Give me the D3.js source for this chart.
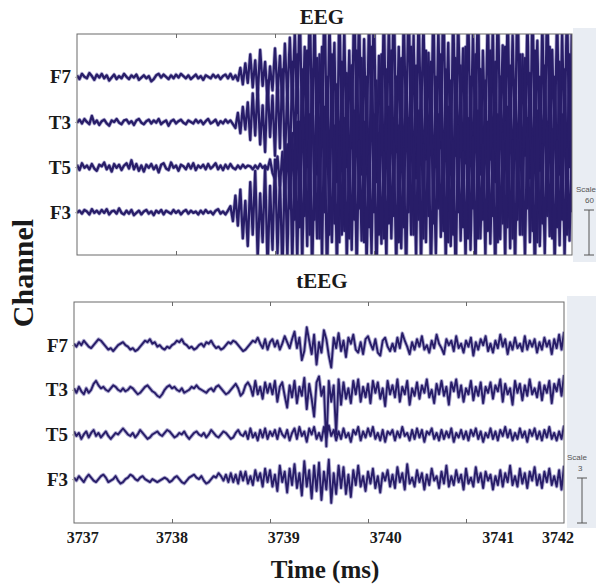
<!DOCTYPE html>
<html>
<head>
<meta charset="utf-8">
<script src="https://cdn.jsdelivr.net/npm/d3@7"></script>
<style>
  body { margin: 0; background: #fff; }
  svg { display: block; }
</style>
</head>
<body>
<svg id="chart" width="596" height="585"></svg>
<script>
var channels = ["F7", "T3", "T5", "F3"];
var t0 = 3737, dt = 0.025;   // sample spacing (ms), 201 samples per trace
var tickLabels = ["3737", "3738", "3739", "3740", "3741", "3742"];
var tickLabelAt = [3737.09, 3738.0, 3739.14, 3740.18, 3741.33, 3741.94];
var eegScale = 60, teegScale = 3;

// EEG, microvolts
var eegF7 = [2,-3,4,0,-2,5,1,-4,3,-1, 4,-2,2,-5,-1,3,-3,1,-2,4, 0,-3,2,-1,3,-4,-1,2,-2,1, -6,-3,2,4,-1,3,0,-3,2,-2,
  3,-1,4,1,-2,2,-3,0,3,-2, 1,-4,2,0,-2,3,-1,2,-3,1, 3,-2,4,-3,2,-5,12,-10,18,-8,
  30,-14,22,-25,36,-12,20,-30,14,-18, 38,-22,28,-40,44,-30,52,-35,60,-48,
  95,-80,40,-120,110,-70,85,-130,30,-90, 120,-110,75,-60,45,-140,100,-85,65,-120,
  35,-95,115,-75,90,-130,50,-100,80,-65, 105,-140,28,-90,95,-115,70,-80,120,-100,
  40,-125,85,-70,110,-95,55,-135,90,-60, 75,-110,32,-85,100,-120,65,-95,115,-75,
  45,-130,95,-105,80,-65,38,-115,105,-90, 60,-100,120,-130,35,-85,90,-110,70,-140,
  110,-75,42,-120,95,-95,55,-80,125,-115, 30,-105,85,-135,100,-70,48,-125,75,-90,
  115,-110,36,-95,90,-130,60,-85,105,-120,80];
var eegT3 = [-1,3,-2,4,0,-3,8,-2,2,-4, 1,3,-2,-5,2,0,4,-1,-3,2, 3,-2,1,-4,2,4,-1,-3,1,3, -2,2,-1,4,-3,0,2,-5,1,3,
  -2,1,3,-1,-3,2,0,-2,3,-1, 2,-3,1,4,-2,0,3,-4,1,-2, 3,-1,2,-3,-8,12,-15,20,-10,26,
  -24,38,-18,45,-30,22,-40,55,-20,35, -45,60,-35,70,-55,48,-65,80,-50,90,
  -90,70,-60,95,-75,55,-95,85,-70,100, -65,60,-85,90,-100,50,-55,80,-80,65,
  -95,75,-70,95,-60,85,-90,60,-85,100, -65,55,-100,90,-75,70,-85,95,-55,60,
  -90,85,-75,65,-65,100,-100,75,-70,55, -85,95,-60,80,-95,60,-65,90,-90,70,
  -75,55,-100,85,-55,75,-80,100,-95,60, -65,90,-85,70,-70,55,-95,95,-65,80,
  -85,60,-60,100,-100,75,-75,55,-65,90, -90,85,-70,65,-85,95,-100,60,-55,75,
  -80,100,-90,55,-65,80,-95,70,-70,90,-65];
var eegT5 = [3,-4,5,-1,2,-3,4,-2,-5,3, 1,6,-3,2,-6,4,-1,3,-4,2, 5,-2,9,-3,4,-5,2,-6,3,-1, 4,-3,2,-7,3,5,-2,-4,6,-1,
  2,-5,3,1,-3,4,-2,5,-4,2, -1,3,-3,4,-2,1,5,-3,2,-4, 3,-2,4,-1,-3,2,-2,3,-1,2,
  1,-3,2,-2,4,-1,2,-3,10,-8, -16,14,-25,20,-40,30,-55,45,-70,60,
  -80,100,-65,75,-90,130,-70,85,-95,115, -60,65,-90,120,-75,90,-100,70,-85,110,
  -95,135,-70,80,-55,100,-100,60,-80,125, -60,85,-90,110,-95,70,-75,95,-65,120,
  -100,65,-80,100,-60,80,-90,130,-70,75, -95,115,-65,90,-75,60,-55,125,-85,95,
  -100,70,-90,110,-60,85,-80,120,-95,65, -55,100,-95,130,-70,75,-85,105,-65,85,
  -100,120,-75,60,-80,110,-95,90,-70,70, -90,125,-55,95,-85,65,-100,100,-75,115,
  -65,80,-95,120,-80,70,-70,95,-90,130,-60];
var eegF3 = [-1,2,-2,3,1,-3,4,-1,2,-2, 3,-1,4,-3,1,2,-2,5,-1,-3, 2,-2,3,-4,-1,2,-3,1,3,-2, 1,-4,2,-1,3,-3,2,0,-2,3,
  -1,2,-3,1,3,-2,2,-1,1,-3, 2,-2,3,-1,1,-3,2,4,-2,1, -3,2,8,-12,22,-18,30,-35,15,-45,
  40,-30,55,-60,25,-40,60,-75,35,-50, 70,-55,45,-80,65,-60,85,-70,90,-65,
  120,-70,95,-45,130,-85,80,-35,110,-60, 140,-90,70,-40,115,-75,100,-30,125,-65,
  85,-50,135,-80,95,-38,120,-70,75,-55, 130,-90,105,-42,80,-65,140,-35,95,-75,
  115,-48,85,-85,125,-30,100,-60,135,-70, 90,-40,120,-80,75,-55,130,-33,105,-68,
  140,-45,95,-90,115,-38,80,-62,125,-50, 100,-75,135,-35,90,-58,120,-42,85,-80,
  130,-36,105,-65,140,-48,95,-72,115,-30, 80,-60,125,-40,100,-85,135,-45,90,-55,
  120,-32,110,-70,95,-44,130,-60,85,-38,105];

// tEEG, in tenths of a scale unit
var teegF7 = [1,-1,2,0,3,1,-1,-2,0,2, 4,3,1,-1,-3,-2,-4,-2,0,1, 2,0,-1,-3,-2,-4,-3,-1,1,3, 2,4,1,2,-1,0,-2,-3,-1,-2,
  0,1,3,2,4,1,0,-2,-1,-3, -2,0,1,-1,2,1,3,0,-2,-1, -3,-2,0,2,1,3,2,0,-2,-4,
  -3,-1,1,3,2,5,1,-2,4,-3, 2,4,-1,3,-3,1,6,2,-2,4,
  9,-2,5,-10,-4,12,3,-6,7,-13, 2,-5,10,4,-7,-15,5,-2,8,-4,
  3,-8,5,1,7,-3,-5,2,-6,4, 6,1,-3,4,-5,-7,3,5,-1,-4,
  1,-4,5,-2,8,3,-1,-6,2,-3, 4,-1,6,-3,0,-5,3,-2,7,1,
  -2,-6,4,0,3,-4,6,-2,1,-5, 3,-1,5,-7,2,-3,4,0,6,-4,
  1,-5,3,-2,7,-1,4,-6,2,-3, 5,-2,1,-4,6,-3,3,-1,4,-5,
  2,-3,5,-1,3,-6,4,-2,7,-3,9];
var teegT3 = [1,-2,2,-1,-3,1,-2,0,4,6, 3,1,2,0,-1,1,3,2,0,-1, 1,-1,0,2,1,-1,-3,-2,0,2, 3,1,-1,-2,-4,-5,-3,0,2,3,
  1,2,0,-1,1,-2,-1,0,2,1, 3,1,0,-1,-2,0,1,-1,2,3, 1,-1,-3,-2,0,2,4,1,-4,-2,
  3,5,2,-4,6,-3,2,-6,5,-2, 4,-3,6,-8,2,5,-4,-12,3,-5,
  6,-9,2,-4,8,-13,4,-6,-18,5, 9,-4,2,-38,6,-8,3,-30,7,-10,
  5,-6,1,-9,6,-3,7,-8,2,-5, 4,-9,6,-2,5,-6,1,-11,6,-3,
  3,-5,7,-8,2,-3,6,-10,1,-4, 5,-6,3,-2,7,-5,0,-9,4,-3,
  6,-4,2,-10,5,-1,7,-5,3,-8, 1,-3,6,-7,2,-4,5,-9,2,-2,
  5,-6,3,-1,7,-8,4,-3,1,-10, 6,-2,4,-7,3,-4,7,-3,1,-5,
  5,-7,3,-2,6,-9,4,-1,7,-4,10];
var teegT5 = [2,-1,1,-3,0,2,-2,1,3,-1, 1,-2,0,2,-1,-3,-1,1,0,2, 4,2,0,-1,1,-2,0,3,1,-1, -3,-2,0,1,2,0,-1,1,3,2,
  0,-2,-1,1,0,2,-1,-3,-1,1, 2,0,-1,1,-2,0,3,1,-1,-2, 0,2,1,-1,-3,-2,1,3,0,-1,
  2,-3,4,-2,1,-4,3,-2,4,-3, 2,-1,3,-3,4,0,-2,3,-4,1,
  4,-3,5,-1,2,-5,4,0,5,-3, 1,-4,5,-2,6,-1,3,-4,2,-3,
  4,-2,1,-5,3,0,5,-4,2,-2, 4,-1,5,-3,1,-4,3,-5,2,0,
  3,-4,2,-2,5,-1,1,-4,3,-3, 4,-2,3,-5,2,0,4,-3,1,-4,
  3,-3,2,-2,4,-5,1,-2,3,-3, 2,-4,3,-1,4,-3,2,-5,1,-2,
  4,-3,2,-4,3,-1,5,-2,3,-4, 1,-3,4,-2,2,-5,3,-1,4,-3,
  2,-4,3,-2,5,-3,1,-4,2,-3,6];
var teegF3 = [1,-1,2,0,-2,1,3,1,-1,-2, 0,2,3,1,-2,-1,0,2,-1,-3, -2,0,1,3,2,0,-1,1,2,0, -1,-2,0,-1,-2,-1,0,1,0,-2,
  -1,1,2,0,-2,-3,-1,1,2,3, 1,0,2,-1,-3,-2,0,2,1,4, 2,-1,3,-2,4,-2,3,-3,5,-1,
  5,-3,2,-4,6,-1,4,-5,7,-2, 6,-5,3,-8,9,-2,5,-9,7,-4,
  10,-6,4,-11,12,-5,6,-13,9,-8, 11,-14,5,-7,13,-16,4,-10,9,-6,
  8,-10,3,-12,6,-4,9,-5,2,-8, 5,-3,7,-6,2,-9,4,-1,6,-5,
  3,-6,8,-2,4,-7,10,-3,1,-5, 6,-2,4,-7,3,-4,7,-1,2,-6,
  5,-3,9,-5,2,-4,6,-2,3,-7, 7,-3,1,-5,8,-2,4,-6,5,-1,
  3,-7,2,-4,6,-5,4,-2,9,-4, 2,-5,7,-3,4,-6,5,-1,8,-4,
  3,-6,5,-2,7,-4,2,-5,6,-7,9];

var eegData = [eegF7, eegT3, eegT5, eegF3];
var teegData = [teegF7, teegT3, teegT5, teegF3].map(function(s) { return s.map(function(v) { return v / 10; }); });

///////////// DRAW /////////////
var svg = d3.select('#chart');
var serif = '"Liberation Serif", "Times New Roman", serif';
var sans = 'Arial, "Liberation Sans", sans-serif';

function lab(sel, size) {
  return sel.style('font-family', serif).style('font-weight', 'bold').style('font-size', size + 'px').attr('fill', '#1a1a1a');
}

var panels = [
  {title: 'EEG', titleY: 24, data: eegData, step: eegScale, left: 77, right: 572, top: 34, bottom: 255,
   dom: [57, -237], grey: [573, 28, 23, 234], scaleText: '60', scaleX: 589, sx: 576, under: 3.8, core: 2.3},
  {title: 'tEEG', titleY: 288, data: teegData, step: teegScale, left: 74, right: 564, top: 302, bottom: 523,
   dom: [2.9, -11.95], grey: [567, 296, 29, 232], scaleText: '3', scaleX: 582, sx: 567, under: 3.8, core: 1.9}
];

panels.forEach(function(p, pi) {
  var x = d3.scaleLinear().domain([3737, 3742]).range([p.left, p.right]);
  var y = d3.scaleLinear().domain(p.dom).range([p.top, p.bottom]);

  // grey strip holding the scale bar
  svg.append('rect').attr('x', p.grey[0]).attr('y', p.grey[1]).attr('width', p.grey[2]).attr('height', p.grey[3])
    .attr('fill', '#e9edf3');

  svg.append('clipPath').attr('id', 'clip' + pi).append('rect')
    .attr('x', p.left).attr('y', p.top).attr('width', p.right - p.left).attr('height', p.bottom - p.top);

  var g = svg.append('g').attr('clip-path', 'url(#clip' + pi + ')');
  var lines = p.data.map(function(series, k) {
    return d3.line()
      .x(function(d, i) { return x(t0 + i * dt); })
      .y(function(d) { return y(-k * p.step + d); })(series);
  });
  // light halo under every trace first, then the dark cores on top
  lines.forEach(function(d) {
    g.append('path').attr('d', d).attr('fill', 'none')
      .attr('stroke', '#7d76b6').attr('stroke-width', p.under).attr('stroke-opacity', 0.6)
      .attr('stroke-linejoin', 'round');
  });
  lines.forEach(function(d) {
    g.append('path').attr('d', d).attr('fill', 'none')
      .attr('stroke', '#281d68').attr('stroke-width', p.core).attr('stroke-linejoin', 'round');
  });

  // frame with inward ticks
  svg.append('rect').attr('x', p.left).attr('y', p.top).attr('width', p.right - p.left).attr('height', p.bottom - p.top)
    .attr('fill', 'none').attr('stroke', '#6a6a6a').attr('stroke-width', 1);
  var inner = [3738, 3739, 3740, 3741];
  svg.append('g').attr('transform', 'translate(0,' + p.bottom + ')')
    .call(d3.axisBottom(x).tickValues(inner).tickSize(-4).tickFormat(''))
    .call(function(a) { a.select('.domain').remove(); a.selectAll('line').attr('stroke', '#6a6a6a'); });
  svg.append('g').attr('transform', 'translate(0,' + p.top + ')')
    .call(d3.axisTop(x).tickValues(inner).tickSize(-4).tickFormat(''))
    .call(function(a) { a.select('.domain').remove(); a.selectAll('line').attr('stroke', '#6a6a6a'); });

  // channel labels
  var ya = svg.append('g').attr('transform', 'translate(' + p.left + ',0)')
    .call(d3.axisLeft(y).tickValues(channels.map(function(c, k) { return -k * p.step; }))
      .tickFormat(function(d, i) { return channels[i]; }).tickSize(2).tickPadding(4));
  ya.select('.domain').remove();
  ya.selectAll('line').attr('stroke', '#aaa');
  lab(ya.selectAll('text'), 19);

  // title
  lab(svg.append('text').attr('x', 322).attr('y', p.titleY).attr('text-anchor', 'middle'), 21).text(p.title);

  // scale bar
  var sb = svg.append('g').attr('stroke', '#555').attr('stroke-width', 1);
  var barTop = p.bottom - 45;
  sb.append('line').attr('x1', p.scaleX).attr('x2', p.scaleX).attr('y1', barTop).attr('y2', p.bottom);
  sb.append('line').attr('x1', p.scaleX - 5).attr('x2', p.scaleX + 5).attr('y1', barTop).attr('y2', barTop);
  sb.append('line').attr('x1', p.scaleX - 5).attr('x2', p.scaleX + 5).attr('y1', p.bottom).attr('y2', p.bottom);
  svg.append('text').attr('x', p.sx).attr('y', barTop - 18).attr('fill', '#555')
    .style('font-family', sans).style('font-size', '8px').text('Scale');
  svg.append('text').attr('x', p.scaleX - 4).attr('y', barTop - 7).attr('fill', '#555')
    .style('font-family', sans).style('font-size', '8px').text(p.scaleText);

  if (pi == 1) {
    // time labels under the lower panel
    lab(svg.selectAll('.tl').data(tickLabels).enter().append('text')
      .attr('class', 'tl').attr('x', function(d, i) { return x(tickLabelAt[i]); }).attr('y', 543)
      .attr('text-anchor', 'middle'), 16).text(function(d) { return d; });
  }
});

lab(svg.append('text').attr('x', 325).attr('y', 578).attr('text-anchor', 'middle'), 25).text('Time (ms)');
lab(svg.append('text').attr('transform', 'translate(33,273) rotate(-90)').attr('text-anchor', 'middle'), 30)
  .text('Channel');
</script>
</body>
</html>
